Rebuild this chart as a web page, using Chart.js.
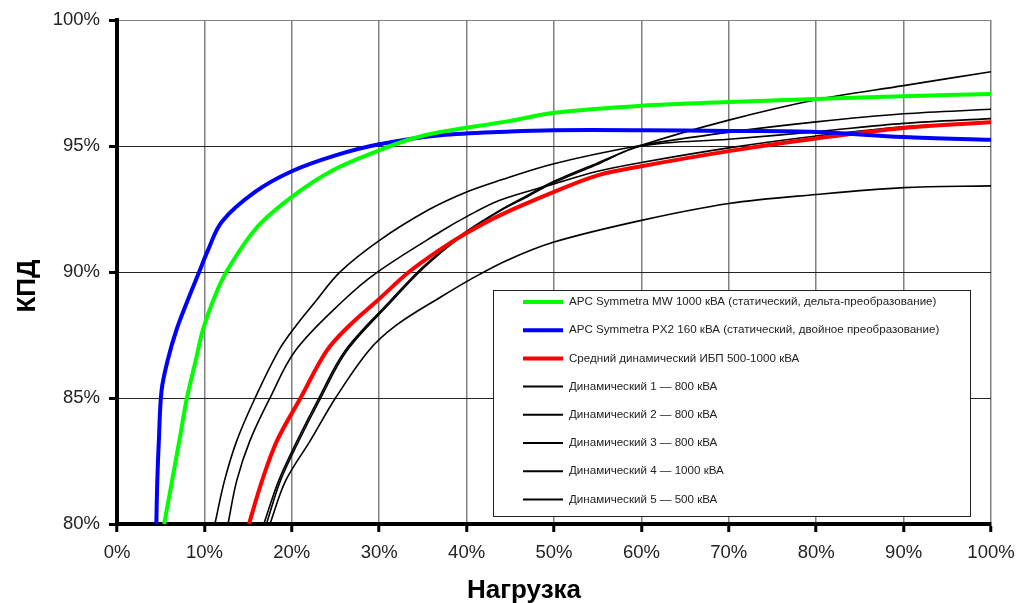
<!DOCTYPE html>
<html>
<head>
<meta charset="utf-8">
<script src="https://cdn.jsdelivr.net/npm/chart.js@4/dist/chart.umd.min.js"></script>
<style>
  body { margin: 0; background: #fff; }
  canvas { display: block; }
</style>
</head>
<body>
<canvas id="chart" width="1027" height="603"></canvas>
<script>
// values: load (%) and efficiency (%)
const loadMW = [5.4, 7.2, 8.0, 9.0, 9.8, 11.0, 12.5, 15.9, 20, 24.7, 30, 33.8, 37, 45, 50, 60, 70, 80, 90, 100];
const effMW = [80, 83.44, 85, 86.48, 87.68, 88.87, 90, 91.73, 92.98, 94.04, 94.83, 95.3, 95.56, 96.0, 96.32, 96.6, 96.75, 96.87, 96.98, 97.07];

const loadPX2 = [4.5, 4.6, 4.8, 5.1, 5.8, 6.8, 8.0, 9.4, 10.4, 12, 15.8, 20, 25, 30, 37, 45, 50, 60, 70, 80, 90, 100];
const effPX2 = [80, 81.6, 83.4, 85.3, 86.5, 87.7, 88.8, 90, 90.86, 92.0, 93.18, 94.0, 94.63, 95.07, 95.43, 95.58, 95.63, 95.63, 95.6, 95.56, 95.36, 95.25];

const loadAvg = [15.1, 16.6, 18.3, 21.0, 24.0, 26.6, 29.8, 33.4, 37, 40, 43.8, 50, 55, 60, 70, 80, 90, 100];
const effAvg = [80, 81.72, 83.3, 85, 86.88, 87.88, 88.87, 90, 90.9, 91.55, 92.25, 93.18, 93.84, 94.2, 94.8, 95.3, 95.72, 95.95];

const loadDyn1 = [11.2, 12.3, 13.7, 15.8, 18.5, 20.5, 22.8, 25.5, 30, 35.7, 40, 43.8, 50, 60, 70, 80, 90, 100];
const effDyn1 = [80, 81.72, 83.3, 85, 86.88, 87.88, 88.87, 90, 91.25, 92.48, 93.18, 93.64, 94.3, 95.03, 95.55, 95.96, 96.28, 96.46];

const loadDyn2 = [12.7, 13.7, 15.2, 17.5, 20.4, 25.9, 29.8, 37, 40, 43.8, 50, 55, 60, 70, 80, 90, 100];
const effDyn2 = [80, 81.72, 83.3, 85, 86.88, 88.87, 90, 91.6, 92.2, 92.85, 93.5, 94.0, 94.35, 94.93, 95.4, 95.77, 95.92];

const loadDyn3 = [16.8, 18.5, 20.6, 23.1, 26.1, 31.3, 34.4, 37, 40, 43.8, 47, 50, 55, 60, 70, 80, 90, 100];
const effDyn3 = [80, 81.72, 83.3, 85, 86.88, 88.87, 90, 90.8, 91.62, 92.45, 93.05, 93.6, 94.33, 95.03, 96.03, 96.84, 97.4, 97.95];

const loadDyn4 = [17.1, 18.7, 20.8, 23.3, 26.3, 31.5, 34.6, 37, 40, 43.8, 47, 50, 55, 60, 70, 80, 90, 100];
const effDyn4 = [80, 81.72, 83.3, 85, 86.88, 88.87, 90, 90.75, 91.58, 92.42, 93.0, 93.55, 94.28, 95.0, 95.27, 95.57, 95.9, 96.09];

const loadDyn5 = [17.5, 19.3, 22.1, 25, 28.8, 32.0, 37, 40.5, 44.6, 50, 60, 70, 80, 90, 100];
const effDyn5 = [80, 81.72, 83.3, 85, 86.88, 87.9, 89.0, 89.72, 90.46, 91.19, 92.05, 92.72, 93.08, 93.35, 93.42];

const seriesLabels = [
    'APC Symmetra MW 1000 кВА (статический, дельта-преобразование)',
    'APC Symmetra PX2 160 кВА (статический, двойное преобразование)',
    'Средний динамический ИБП 500-1000 кВА',
    'Динамический 1 — 800 кВА',
    'Динамический 2 — 800 кВА',
    'Динамический 3 — 800 кВА',
    'Динамический 4 — 1000 кВА',
    'Динамический 5 — 500 кВА'
];

const xTitle = 'Нагрузка';
const yTitle = 'КПД';
const FONT = '"Liberation Sans", Arial, sans-serif';

/**
 * Zip load and efficiency arrays into points.
 */
function Points(xs, ys) {
    return xs.map((x, i) => ({x: x, y: ys[i]}));
}

function Series(label, xs, ys, color, width) {
    return {
        label: label,
        data: Points(xs, ys),
        borderColor: color,
        backgroundColor: color,
        borderWidth: width,
        pointRadius: 0,
        fill: false,
        tension: 0.35
    };
}

// legend box drawn over the plot, like in the original
const boxLegend = {
    id: 'box_legend',
    afterDraw: (chart) => {
        const ctx = chart.ctx;
        const left = 493, top = 290, w = 477, h = 226;
        ctx.save();
        ctx.fillStyle = '#fff';
        ctx.fillRect(left, top, w, h);
        ctx.strokeStyle = '#222';
        ctx.lineWidth = 1;
        ctx.strokeRect(left + 0.5, top + 0.5, w, h);

        ctx.font = '11.6px ' + FONT;
        ctx.textBaseline = 'middle';
        ctx.textAlign = 'left';
        chart.data.datasets.forEach((ds, i) => {
            const y = top + 12 + i * 28.2;
            ctx.strokeStyle = ds.borderColor;
            ctx.lineWidth = ds.borderWidth > 2 ? 4 : 2;
            ctx.beginPath();
            ctx.moveTo(left + 30, y);
            ctx.lineTo(left + 70, y);
            ctx.stroke();
            ctx.fillStyle = '#222';
            ctx.fillText(ds.label, left + 76, y);
        });
        ctx.restore();
    }
};

const axisTitles = {
    id: 'axis_titles',
    afterDraw: (chart) => {
        const ctx = chart.ctx;
        ctx.save();
        ctx.fillStyle = '#000';
        ctx.font = 'bold 26px ' + FONT;
        ctx.textAlign = 'center';
        ctx.textBaseline = 'alphabetic';
        ctx.fillText(xTitle, 524, 598);
        ctx.translate(35, 286);
        ctx.rotate(-Math.PI / 2);
        ctx.fillText(yTitle, 0, 0);
        ctx.restore();
    }
};

const tickFont = {family: FONT, size: 18.5};

new Chart(document.getElementById('chart'), {
    type: 'line',
    data: {
        datasets: [
            Series(seriesLabels[0], loadMW, effMW, '#00ff00', 4),
            Series(seriesLabels[1], loadPX2, effPX2, '#0000ff', 4),
            Series(seriesLabels[2], loadAvg, effAvg, '#ff0000', 4),
            Series(seriesLabels[3], loadDyn1, effDyn1, '#000', 1.6),
            Series(seriesLabels[4], loadDyn2, effDyn2, '#000', 1.6),
            Series(seriesLabels[5], loadDyn3, effDyn3, '#000', 1.6),
            Series(seriesLabels[6], loadDyn4, effDyn4, '#000', 1.6),
            Series(seriesLabels[7], loadDyn5, effDyn5, '#000', 1.6)
        ]
    },
    options: {
        responsive: false,
        animation: false,
        layout: {padding: {top: 20, right: 36, left: 0, bottom: 0}},
        plugins: {
            legend: {display: false},
            tooltip: {enabled: false}
        },
        scales: {
            x: {
                type: 'linear',
                min: 0,
                max: 100,
                ticks: {
                    stepSize: 10,
                    callback: v => v + '%',
                    font: tickFont,
                    color: '#222',
                    padding: 10,
                    maxRotation: 0
                },
                grid: {color: '#808080', lineWidth: 1.5, tickLength: 8, tickColor: '#000', tickWidth: 3},
                border: {color: '#000', width: 4},
                afterFit: (scale) => { scale.height = 79; }
            },
            y: {
                min: 80,
                max: 100,
                ticks: {
                    stepSize: 5,
                    callback: v => v + '%',
                    font: tickFont,
                    color: '#222',
                    padding: 9
                },
                grid: {
                    color: (c) => (c.tick && c.tick.value == 100 ? '#808080' : '#222'),
                    lineWidth: 1,
                    tickLength: 8,
                    tickColor: '#000',
                    tickWidth: 3
                },
                border: {color: '#000', width: 4},
                afterFit: (scale) => { scale.width = 117; }
            }
        }
    },
    plugins: [boxLegend, axisTitles]
});
</script>
</body>
</html>
